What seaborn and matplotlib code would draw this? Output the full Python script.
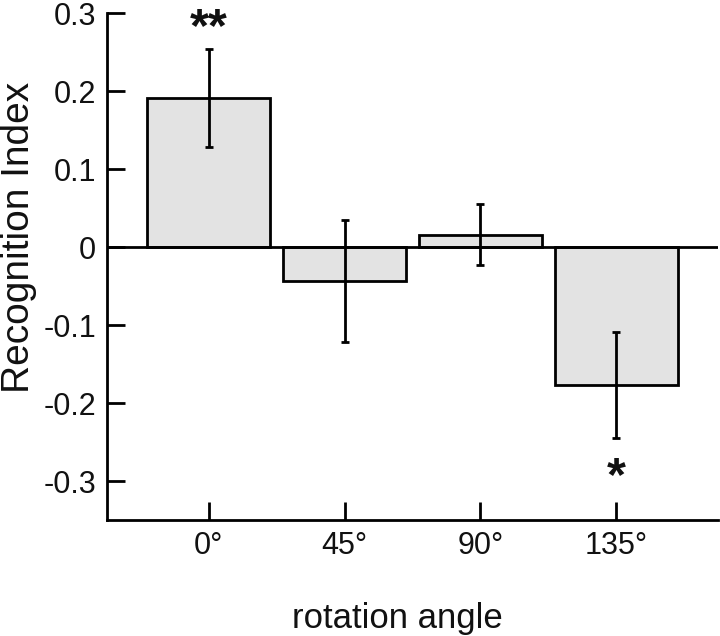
import matplotlib
matplotlib.use("Agg")
import matplotlib.pyplot as plt
import seaborn as sns
import pandas as pd

angles = ["0°", "45°", "90°", "135°"]
values = [0.192, -0.043, 0.016, -0.177]
errors = [0.063, 0.078, 0.039, 0.068]
stars = ["**", "", "", "*"]
star_y = [0.252, 0, 0, -0.324]
yticks = [-0.3, -0.2, -0.1, 0, 0.1, 0.2, 0.3]
ytick_labels = ["-0.3", "-0.2", "-0.1", "0", "0.1", "0.2", "0.3"]

sns.set_style("ticks")
plt.rcParams["font.family"] = ["Liberation Sans", "DejaVu Sans"]

df = pd.DataFrame({"angle": angles, "value": values})

fig = plt.figure(figsize=(7.2, 6.36), dpi=100)
ax = fig.add_axes([0.1486, 0.1824, 0.8484, 0.7964])

sns.barplot(data=df, x="angle", y="value", order=angles, errorbar=None,
            color="#e3e3e3", saturation=1, width=0.906,
            edgecolor="black", linewidth=2.0, ax=ax, zorder=2)
ax.errorbar(range(len(angles)), values, yerr=errors, fmt="none",
            ecolor="black", elinewidth=2.0, capsize=3, capthick=2.0, zorder=3)
ax.axhline(0, color="black", lw=2.0, zorder=4)

for i, (s, y) in enumerate(zip(stars, star_y)):
    if s:
        ax.text(i, y, s, ha="center", va="bottom", fontsize=35,
                fontweight="bold", color="#111111")

ax.set_xlim(-0.75, 3.75)
ax.set_ylim(-0.35, 0.3)
ax.set_yticks(yticks)
ax.set_yticklabels(ytick_labels)
ax.tick_params(axis="both", direction="in", length=13, width=2.0,
               labelsize=22, colors="black", pad=8)
ax.tick_params(axis="y", labelcolor="#111111")
ax.tick_params(axis="x", labelcolor="#111111")
for side in ["top", "right"]:
    ax.spines[side].set_visible(False)
for side in ["left", "bottom"]:
    ax.spines[side].set_linewidth(2.0)
    ax.spines[side].set_color("black")

ax.set_xlabel("rotation angle", fontsize=25, color="#111111")
ax.set_ylabel("Recognition Index", fontsize=28, color="#111111")
ax.xaxis.set_label_coords(0.475, -0.161)
ax.yaxis.set_label_coords(-0.1146, 0.557)

fig.savefig("out.png", dpi=100)
